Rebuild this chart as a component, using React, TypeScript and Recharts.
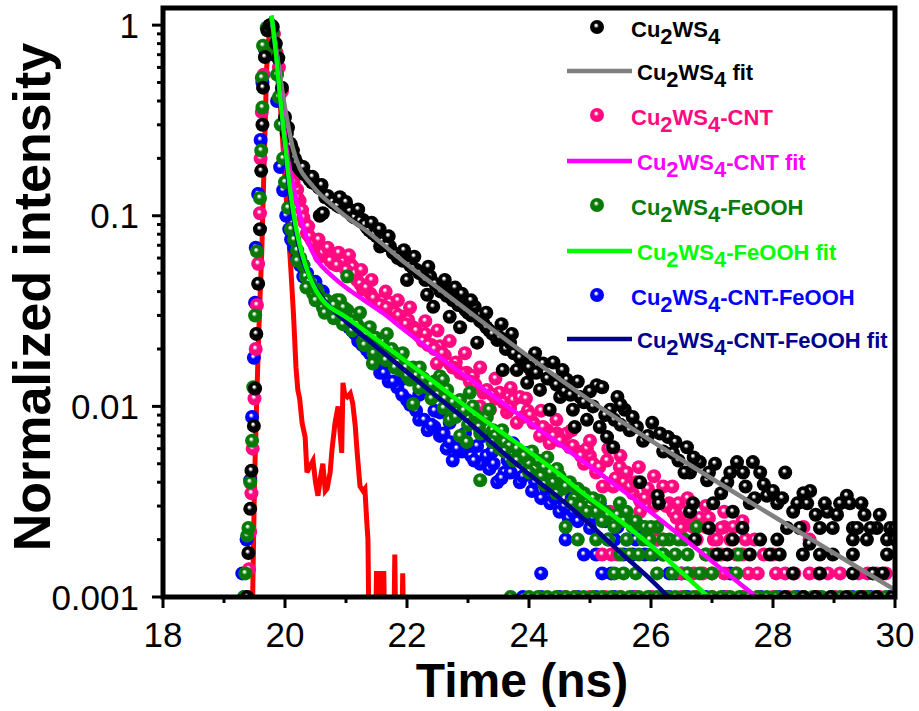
import React from 'react';
import { ComposedChart, Line, Scatter, XAxis, YAxis, ReferenceArea } from 'recharts';

// measured points, [time (ns), normalized intensity]
const cu2ws4: number[][] = [
  [19.38, 0.001], [19.40, 0.0017], [19.43, 0.0029], [19.45, 0.0046], [19.49, 0.0079], [19.51, 0.0124], [19.53, 0.024],
  [19.56, 0.044], [19.59, 0.085], [19.61, 0.172], [19.63, 0.30], [19.64, 0.47], [19.67, 0.68], [19.71, 0.94], [19.75, 1.0],
  [19.80, 0.98], [19.85, 0.8], [19.89, 0.67], [19.95, 0.47], [20.0, 0.33], [20.03, 0.27], [20.08, 0.24], [20.13, 0.22],
  [20.16, 0.2], [20.22, 0.18], [20.28, 0.17], [20.36, 0.162], [20.44, 0.15], [20.52, 0.146], [20.57, 0.10], [20.62, 0.103],
  [20.66, 0.125], [20.74, 0.121], [20.82, 0.116], [20.9, 0.111], [20.96, 0.116], [21.02, 0.111], [21.1, 0.1], [21.18, 0.103],
  [21.28, 0.095], [21.34, 0.087], [21.44, 0.081], [21.5, 0.078], [21.56, 0.069], [21.64, 0.072], [21.72, 0.069], [21.77, 0.064],
  [21.85, 0.06], [21.93, 0.058], [22.0, 0.046], [22.05, 0.055], [22.16, 0.052], [22.25, 0.05], [22.33, 0.0385], [22.38, 0.048],
  [22.43, 0.0333], [22.5, 0.043], [22.59, 0.041], [22.7, 0.0295], [22.79, 0.042], [22.87, 0.026], [22.92, 0.0333], [23.0, 0.031],
  [23.11, 0.0333], [23.15, 0.0216], [23.25, 0.0274], [23.35, 0.025], [23.48, 0.0223], [23.57, 0.0155], [23.62, 0.02], [23.69, 0.0216],
  [23.8, 0.0155], [23.9, 0.017], [23.97, 0.0133], [24.05, 0.015], [24.18, 0.0122], [24.23, 0.0168], [24.34, 0.0096], [24.39, 0.0138],
  [24.51, 0.0112], [24.62, 0.0138], [24.72, 0.0096], [24.75, 0.0078], [24.84, 0.0112], [24.95, 0.0085], [25.11, 0.0129], [25.16, 0.0078],
  [25.2, 0.0126], [25.28, 0.0069], [25.33, 0.0096], [25.38, 0.0061], [25.45, 0.0112], [25.57, 0.0096], [25.77, 0.0078], [25.82, 0.004],
  [25.87, 0.0066], [26.02, 0.0082], [26.11, 0.0034], [26.13, 0.0031], [26.28, 0.0069], [26.36, 0.0057], [26.59, 0.0061], [26.64, 0.0045],
  [26.64, 0.0028], [26.69, 0.0031], [26.72, 0.002], [26.8, 0.0051], [26.92, 0.0041], [27.02, 0.0031], [27.08, 0.00167], [27.25, 0.004],
  [27.25, 0.00167], [27.34, 0.0028], [27.34, 0.002], [27.41, 0.0051], [27.51, 0.0045], [27.62, 0.0031], [27.62, 0.00167], [27.67, 0.0051],
  [27.79, 0.0045], [27.79, 0.002], [27.9, 0.0034], [27.95, 0.00167], [28.07, 0.0031], [28.07, 0.002], [28.11, 0.00167], [28.2, 0.0045],
  [28.23, 0.0023], [28.33, 0.0028], [28.33, 0.00133], [28.44, 0.0023], [28.49, 0.00167], [28.56, 0.0031], [28.61, 0.0036], [28.77, 0.0023],
  [28.77, 0.00167], [28.77, 0.00133], [28.89, 0.0028], [28.98, 0.0023], [28.98, 0.00167], [29.21, 0.0034], [29.26, 0.0031], [29.31, 0.0023],
  [29.31, 0.002], [29.31, 0.00167], [29.31, 0.00133], [29.38, 0.0023], [29.54, 0.002], [29.64, 0.00133], [29.7, 0.0023], [29.8, 0.00133],
  [29.87, 0.002], [29.87, 0.00167], [29.92, 0.0023], [30.0, 0.0023],
  [28.2, 0.001], [28.5, 0.001], [28.7, 0.001], [28.95, 0.001], [29.2, 0.001], [29.45, 0.001], [29.7, 0.001], [29.95, 0.001],
  [20.05, 0.29], [20.1, 0.235], [20.19, 0.19], [20.25, 0.175], [20.32, 0.165], [20.4, 0.155], [20.48, 0.148], [20.56, 0.14],
  [20.7, 0.127], [20.78, 0.118], [20.86, 0.113], [21.06, 0.106], [21.14, 0.098], [21.23, 0.094], [21.31, 0.09], [21.38, 0.084],
  [21.47, 0.08], [21.6, 0.073], [21.68, 0.07], [21.81, 0.063], [21.89, 0.061], [22.1, 0.053], [22.2, 0.05], [22.3, 0.046],
  [22.46, 0.044], [22.55, 0.04], [22.65, 0.038], [22.75, 0.036], [22.84, 0.034], [22.96, 0.032], [23.06, 0.03], [23.2, 0.028],
  [23.3, 0.026], [23.4, 0.024], [23.52, 0.023], [23.75, 0.019], [23.85, 0.018], [24.0, 0.016], [24.12, 0.015], [24.3, 0.014],
  [24.45, 0.013], [24.58, 0.012], [24.68, 0.0115], [24.9, 0.0105], [25.05, 0.01], [25.25, 0.009], [25.4, 0.0085], [25.5, 0.008],
  [25.65, 0.0075], [25.95, 0.007], [26.2, 0.0058], [26.45, 0.0052], [26.55, 0.0045], [26.95, 0.0045], [27.15, 0.0035],
  [27.55, 0.0038], [27.7, 0.0033], [28.0, 0.0036], [28.4, 0.0031], [28.7, 0.0027], [29.05, 0.0027], [29.5, 0.0027],
  [29.75, 0.0027], [30.0, 0.002],
  [20.3, 0.18], [20.45, 0.16], [20.6, 0.145], [20.9, 0.125], [21.0, 0.118], [21.2, 0.108], [21.42, 0.092], [21.55, 0.085],
  [21.7, 0.078], [21.95, 0.066], [22.12, 0.061], [22.35, 0.054], [22.62, 0.046], [22.9, 0.039], [23.05, 0.036], [23.3, 0.031],
  [23.55, 0.027], [23.72, 0.024], [24.1, 0.019], [24.4, 0.017], [24.55, 0.0155], [24.8, 0.0135], [25.0, 0.012], [25.5, 0.0102],
  [25.7, 0.0088], [26.15, 0.0072], [26.4, 0.0065], [26.7, 0.0054], [27.05, 0.005], [27.3, 0.0045], [27.85, 0.0039], [28.15, 0.0033],
  [28.5, 0.0035], [28.85, 0.0031], [29.1, 0.0031], [29.45, 0.0031], [29.6, 0.0023], [28.6, 0.0019], [27.5, 0.0023], [26.95, 0.0023],
];

const cu2ws4Cnt: number[][] = [
  [19.38, 0.001], [19.41, 0.0014], [19.43, 0.0022], [19.45, 0.0035], [19.47, 0.006], [19.5, 0.011], [19.52, 0.02], [19.54, 0.034],
  [19.56, 0.056], [19.59, 0.103], [19.6, 0.2], [19.62, 0.35], [19.65, 0.55], [19.68, 0.76], [19.72, 0.95], [19.77, 1.0],
  [19.82, 0.9], [19.86, 0.72], [19.9, 0.6], [19.95, 0.45], [20.0, 0.3], [20.05, 0.22], [20.1, 0.17], [20.16, 0.14], [20.2, 0.137],
  [20.24, 0.12], [20.28, 0.107], [20.32, 0.092], [20.36, 0.081], [20.44, 0.074], [20.52, 0.069], [20.57, 0.061], [20.69, 0.061],
  [20.79, 0.056], [20.9, 0.056], [20.95, 0.058], [21.07, 0.056], [21.11, 0.054], [21.18, 0.046], [21.23, 0.044], [21.28, 0.041],
  [21.4, 0.039], [21.51, 0.035], [21.6, 0.036], [21.72, 0.035], [21.8, 0.031], [21.93, 0.0295], [22.02, 0.0284], [22.1, 0.026],
  [22.21, 0.0233], [22.3, 0.024], [22.4, 0.021], [22.49, 0.0168], [22.54, 0.0207], [22.62, 0.0185], [22.7, 0.0168], [22.8, 0.017],
  [22.87, 0.015], [22.98, 0.015], [23.08, 0.0144], [23.15, 0.0099], [23.2, 0.01], [23.25, 0.0118], [23.31, 0.0122], [23.36, 0.0096],
  [23.45, 0.011], [23.52, 0.0118], [23.64, 0.0093], [23.74, 0.0108], [23.8, 0.0082], [23.85, 0.0112], [23.9, 0.0088], [23.98, 0.0095],
  [24.07, 0.0082], [24.13, 0.005], [24.18, 0.007], [24.3, 0.0075], [24.34, 0.0064], [24.46, 0.0072], [24.56, 0.007], [24.62, 0.0072],
  [24.67, 0.0061], [24.8, 0.0058], [24.9, 0.005], [25.0, 0.0055], [25.1, 0.0045], [25.21, 0.0038], [25.28, 0.0052], [25.33, 0.0028],
  [25.38, 0.0038], [25.49, 0.0048], [25.6, 0.0045], [25.7, 0.0035], [25.82, 0.0032], [25.82, 0.0028], [25.95, 0.0037], [26.05, 0.003],
  [26.2, 0.0038], [26.3, 0.0031], [26.36, 0.0028], [26.42, 0.0026], [26.5, 0.0023], [26.6, 0.0026], [26.69, 0.00233], [26.75, 0.002],
  [26.9, 0.00233], [27.03, 0.002], [27.08, 0.002], [27.2, 0.00233], [27.3, 0.002], [27.4, 0.00167],
  [25.2, 0.00167], [25.35, 0.00167], [25.45, 0.00167], [26.9, 0.00167], [27.0, 0.00167], [27.15, 0.00167], [27.5, 0.00167],
  [26.5, 0.00133], [26.7, 0.00133], [26.85, 0.00133], [27.0, 0.00133], [27.2, 0.00133], [27.4, 0.00133], [27.6, 0.00133],
  [27.75, 0.00133], [28.6, 0.00133], [28.75, 0.00133], [28.9, 0.00133], [29.4, 0.00133], [29.55, 0.00133],
  [24.6, 0.001], [25.0, 0.001], [25.5, 0.001], [26.0, 0.001], [26.5, 0.001], [27.0, 0.001], [27.5, 0.001], [28.0, 0.001],
  [28.5, 0.001], [29.0, 0.001], [29.5, 0.001], [30.0, 0.001], [26.1, 0.002], [26.2, 0.002], [28.6, 0.002], [28.5, 0.00233],
  [20.14, 0.15], [20.3, 0.098], [20.4, 0.078], [20.48, 0.072], [20.62, 0.064], [20.74, 0.058], [20.85, 0.055], [21.0, 0.052],
  [21.15, 0.05], [21.33, 0.042], [21.45, 0.037], [21.56, 0.034], [21.66, 0.033], [21.86, 0.03], [21.98, 0.027], [22.15, 0.025],
  [22.26, 0.022], [22.35, 0.021], [22.45, 0.02], [22.58, 0.019], [22.75, 0.016], [22.92, 0.0148], [23.03, 0.0135], [23.12, 0.013],
  [23.4, 0.0115], [23.58, 0.0105], [23.69, 0.0098], [24.02, 0.009], [24.23, 0.0078], [24.4, 0.007], [24.51, 0.0066], [24.72, 0.0062],
  [24.85, 0.0055], [24.95, 0.006], [25.05, 0.005], [25.15, 0.0048], [25.42, 0.0042], [25.55, 0.004], [25.65, 0.0038], [25.75, 0.004],
  [25.9, 0.0033], [26.1, 0.0033], [26.25, 0.003], [26.45, 0.0031], [26.55, 0.0028], [26.8, 0.0026], [26.95, 0.0026], [27.15, 0.0023],
  [27.35, 0.00233], [27.55, 0.002], [27.7, 0.002], [27.85, 0.00167], [28.0, 0.00167], [28.2, 0.00133], [28.35, 0.00133],
  [28.05, 0.00133], [29.1, 0.00133], [29.7, 0.00133], [29.85, 0.00133],
  [24.75, 0.001], [25.25, 0.001], [25.75, 0.001], [26.25, 0.001], [26.75, 0.001], [27.25, 0.001], [27.75, 0.001], [28.25, 0.001],
  [28.75, 0.001], [29.25, 0.001], [29.75, 0.001],
  [20.2, 0.125], [20.38, 0.088], [20.55, 0.075], [20.7, 0.068], [20.88, 0.064], [21.05, 0.062], [21.25, 0.052], [21.42, 0.046],
  [21.65, 0.04], [21.85, 0.036], [22.05, 0.033], [22.3, 0.028], [22.5, 0.025], [22.7, 0.022], [22.95, 0.019], [23.2, 0.016],
  [23.45, 0.014], [23.7, 0.0125], [23.95, 0.011], [24.2, 0.0095], [24.45, 0.0085], [24.7, 0.0075], [25.0, 0.0066], [25.3, 0.006],
  [25.5, 0.0055], [25.8, 0.0048], [26.05, 0.0043], [26.35, 0.0038], [26.6, 0.0033], [26.9, 0.003], [27.2, 0.0028], [27.5, 0.0025],
];

const cu2ws4FeOOH: number[][] = [
  [19.33, 0.001], [19.35, 0.00133], [19.38, 0.0021], [19.40, 0.0023], [19.43, 0.004], [19.46, 0.0066], [19.48, 0.0126], [19.51, 0.03],
  [19.54, 0.065], [19.59, 0.124], [19.61, 0.22], [19.63, 0.37], [19.62, 0.53], [19.64, 0.78], [19.7, 0.97], [19.76, 1.0],
  [19.8, 0.92], [19.84, 0.75], [19.87, 0.55], [19.9, 0.42], [19.93, 0.3], [19.97, 0.2], [20.0, 0.15], [20.05, 0.11], [20.1, 0.085],
  [20.15, 0.075], [20.2, 0.066], [20.3, 0.055], [20.34, 0.048], [20.46, 0.039], [20.52, 0.041], [20.62, 0.033], [20.74, 0.035],
  [20.85, 0.036], [20.9, 0.036], [21.02, 0.048], [21.02, 0.032], [21.15, 0.03], [21.23, 0.031], [21.28, 0.022], [21.39, 0.026],
  [21.44, 0.0168], [21.51, 0.0205], [21.6, 0.022], [21.67, 0.024], [21.72, 0.0175], [21.8, 0.019], [21.89, 0.0155], [21.93, 0.019],
  [22.05, 0.0138], [22.1, 0.016], [22.1, 0.0103], [22.21, 0.016], [22.33, 0.0126], [22.45, 0.0135], [22.54, 0.0144], [22.59, 0.0138],
  [22.66, 0.0122], [22.7, 0.0085], [22.8, 0.0095], [22.87, 0.0108], [22.87, 0.007], [22.98, 0.0065], [23.03, 0.0118], [23.08, 0.01],
  [23.2, 0.0041], [23.25, 0.0085], [23.31, 0.0088], [23.35, 0.0096], [23.41, 0.0075], [23.52, 0.006], [23.6, 0.0065], [23.74, 0.0052],
  [23.85, 0.0056], [24.0, 0.005], [24.1, 0.0047], [24.2, 0.0043], [24.3, 0.0054], [24.4, 0.004], [24.46, 0.0047], [24.55, 0.0037],
  [24.67, 0.004], [24.75, 0.0033], [24.9, 0.0035], [25.0, 0.003], [25.16, 0.0032], [25.25, 0.0028], [25.38, 0.0025], [25.49, 0.0031],
  [25.6, 0.0028], [25.7, 0.00233], [25.87, 0.002], [25.98, 0.002], [26.1, 0.00233], [26.3, 0.002], [26.75, 0.00233],
  [24.6, 0.00233], [24.8, 0.002], [25.1, 0.002], [25.3, 0.002], [25.5, 0.00167], [25.65, 0.00167], [25.8, 0.00167], [26.0, 0.00167],
  [26.2, 0.00167], [26.4, 0.00167], [26.6, 0.00167], [26.55, 0.002], [27.44, 0.00167], [25.4, 0.00133], [25.55, 0.00133],
  [25.75, 0.00133], [26.1, 0.00133], [27.4, 0.00133],
  [24.0, 0.001], [24.3, 0.001], [24.6, 0.001], [24.9, 0.001], [25.2, 0.001], [25.5, 0.001], [25.8, 0.001], [26.1, 0.001],
  [26.4, 0.001], [26.7, 0.001], [27.0, 0.001], [27.3, 0.001], [27.6, 0.001], [27.9, 0.001], [28.2, 0.001], [28.5, 0.001],
  [28.8, 0.001], [29.1, 0.001], [29.4, 0.001], [29.7, 0.001],
  [20.25, 0.06], [20.4, 0.045], [20.56, 0.038], [20.68, 0.036], [20.8, 0.034], [20.96, 0.033], [21.1, 0.028], [21.18, 0.027],
  [21.33, 0.024], [21.48, 0.023], [21.55, 0.019], [21.75, 0.02], [21.85, 0.017], [21.98, 0.016], [22.15, 0.0145], [22.27, 0.014],
  [22.4, 0.013], [22.5, 0.0115], [22.62, 0.011], [22.75, 0.0105], [22.93, 0.0095], [23.12, 0.009], [23.18, 0.0078], [23.45, 0.007],
  [23.56, 0.0075], [23.68, 0.0062], [23.8, 0.006], [23.92, 0.0055], [24.05, 0.0058], [24.15, 0.0052], [24.25, 0.0048], [24.35, 0.0045],
  [24.5, 0.0043], [24.6, 0.0038], [24.8, 0.0037], [24.85, 0.003], [25.05, 0.0033], [25.1, 0.0028], [25.3, 0.0027], [25.45, 0.0027],
  [25.55, 0.0025], [25.75, 0.0025], [25.9, 0.00233], [26.0, 0.00233], [26.2, 0.002], [26.45, 0.002], [26.9, 0.00167], [27.1, 0.00167],
  [26.8, 0.00133], [27.0, 0.00133],
  [23.7, 0.001], [24.15, 0.001], [24.45, 0.001], [24.75, 0.001], [25.05, 0.001], [25.35, 0.001], [25.65, 0.001], [25.95, 0.001],
  [26.25, 0.001], [26.55, 0.001], [26.85, 0.001], [27.15, 0.001], [27.45, 0.001], [27.75, 0.001], [28.05, 0.001], [28.35, 0.001],
  [28.65, 0.001], [28.95, 0.001], [29.25, 0.001], [29.55, 0.001], [29.85, 0.001],
  [20.2, 0.058], [20.35, 0.042], [20.5, 0.036], [20.65, 0.031], [20.8, 0.029], [20.95, 0.027], [21.1, 0.025], [21.3, 0.021],
  [21.45, 0.019], [21.65, 0.0175], [21.8, 0.016], [22.0, 0.0145], [22.2, 0.0125], [22.4, 0.011], [22.6, 0.0098], [22.8, 0.0088],
  [23.0, 0.008], [23.2, 0.0072], [23.4, 0.0065], [23.6, 0.0058], [23.8, 0.0052], [24.0, 0.0045], [24.25, 0.0039], [24.45, 0.0035],
  [24.7, 0.0031], [24.95, 0.0028], [25.2, 0.0025], [25.4, 0.00233], [25.6, 0.002], [26.35, 0.00133], [26.6, 0.00133],
];

const cu2ws4CntFeOOH: number[][] = [
  [19.3, 0.00133], [19.33, 0.001], [19.37, 0.002], [19.43, 0.0041], [19.46, 0.0088], [19.49, 0.018], [19.51, 0.035], [19.52, 0.068],
  [19.56, 0.13], [19.6, 0.25], [19.63, 0.5], [19.67, 0.75], [19.72, 0.95], [19.77, 1.0],
  [19.82, 0.7], [19.87, 0.4], [19.92, 0.18], [19.97, 0.136], [20.02, 0.1], [20.1, 0.075], [20.2, 0.06], [20.3, 0.048], [20.36, 0.05],
  [20.45, 0.043], [20.52, 0.042], [20.65, 0.034], [20.79, 0.03], [20.9, 0.029], [20.98, 0.0275], [21.1, 0.025], [21.2, 0.022],
  [21.34, 0.0198], [21.39, 0.019], [21.5, 0.017], [21.56, 0.015], [21.7, 0.0135], [21.84, 0.0126], [22.0, 0.0108], [22.1, 0.0105],
  [22.2, 0.0085], [22.34, 0.0075], [22.45, 0.0078], [22.54, 0.0093], [22.54, 0.007], [22.65, 0.006], [22.75, 0.0052], [22.9, 0.0058],
  [23.05, 0.0055], [23.2, 0.005], [23.25, 0.007], [23.35, 0.0047], [23.48, 0.004], [23.6, 0.0045], [23.74, 0.0064], [23.85, 0.004],
  [23.97, 0.0057], [24.05, 0.0036], [24.2, 0.0033], [24.35, 0.0031], [24.5, 0.0028], [24.65, 0.0026], [24.8, 0.0025], [25.0, 0.0023],
  [25.16, 0.0031], [25.3, 0.002], [25.45, 0.00233], [25.6, 0.002], [25.75, 0.002], [25.9, 0.00167], [26.1, 0.002], [26.3, 0.00133],
  [24.6, 0.002], [24.9, 0.00167], [25.1, 0.00167], [25.2, 0.00133], [25.35, 0.00133], [25.55, 0.00167], [26.4, 0.00133],
  [26.5, 0.00133], [27.3, 0.00133], [24.2, 0.00133],
  [23.9, 0.001], [24.2, 0.001], [24.5, 0.001], [24.8, 0.001], [25.1, 0.001], [25.4, 0.001], [25.7, 0.001], [26.0, 0.001],
  [26.3, 0.001], [26.6, 0.001], [26.9, 0.001], [27.2, 0.001], [27.5, 0.001], [27.8, 0.001], [28.1, 0.001], [28.4, 0.001],
  [28.7, 0.001], [29.0, 0.001], [29.3, 0.001], [29.6, 0.001], [29.9, 0.001],
  [20.07, 0.085], [20.15, 0.068], [20.25, 0.055], [20.4, 0.046], [20.58, 0.038], [20.7, 0.033], [20.85, 0.03], [21.05, 0.026],
  [21.15, 0.024], [21.27, 0.021], [21.45, 0.018], [21.62, 0.015], [21.77, 0.0135], [21.92, 0.0115], [22.05, 0.0102], [22.15, 0.0095],
  [22.28, 0.0085], [22.4, 0.008], [22.6, 0.0072], [22.7, 0.0065], [22.82, 0.006], [23.0, 0.0062], [23.1, 0.0052], [23.3, 0.0055],
  [23.42, 0.005], [23.55, 0.0042], [23.7, 0.0045], [23.9, 0.0043], [24.1, 0.004], [24.28, 0.0037], [24.42, 0.0033], [24.58, 0.003],
  [24.72, 0.0028], [24.9, 0.0027], [25.05, 0.0026], [25.25, 0.0025], [25.4, 0.002], [25.7, 0.00167], [25.95, 0.002], [26.2, 0.00167],
  [26.6, 0.00133],
  [20.12, 0.08], [20.3, 0.055], [20.5, 0.045], [20.62, 0.04], [20.95, 0.031], [21.25, 0.024], [21.5, 0.02], [21.7, 0.017],
  [21.95, 0.014], [22.2, 0.0115], [22.45, 0.0095], [22.7, 0.0082], [22.95, 0.0072], [23.15, 0.0062], [23.4, 0.0058], [23.65, 0.0052],
  [24.0, 0.0047], [24.35, 0.004], [24.7, 0.0033], [25.1, 0.0029], [25.5, 0.0025], [25.85, 0.00233], [26.05, 0.00167],
];

// fitted decays
const cu2ws4Fit: number[][] = [
  [19.78, 1.08], [19.83, 0.85], [19.9, 0.6], [19.97, 0.42], [20.05, 0.3], [20.13, 0.225], [20.25, 0.175], [20.4, 0.15],
  [20.55, 0.132], [20.8, 0.112], [21.0, 0.099], [21.3, 0.085], [21.6, 0.071], [21.9, 0.059], [22.5, 0.042], [23.2, 0.0283],
  [24.0, 0.0182], [24.8, 0.0119], [25.6, 0.008], [26.4, 0.00549], [27.2, 0.00381], [28.0, 0.00266], [28.8, 0.00186],
  [29.6, 0.0013], [30.0, 0.00109],
];
const cu2ws4CntFit: number[][] = [
  [19.78, 1.1], [19.85, 0.75], [19.92, 0.45], [20.0, 0.26], [20.07, 0.18], [20.13, 0.145], [20.25, 0.1], [20.4, 0.07],
  [20.55, 0.057], [20.75, 0.049], [21.0, 0.042], [21.3, 0.036], [21.6, 0.031], [21.9, 0.026], [22.5, 0.0185], [23.2, 0.0127],
  [24.0, 0.0083], [24.8, 0.0054], [25.6, 0.0035], [26.4, 0.0022], [27.1, 0.00145], [27.8, 0.00096],
];
const cu2ws4FeOOHFit: number[][] = [
  [19.78, 1.12], [19.85, 0.72], [19.92, 0.42], [20.0, 0.24], [20.08, 0.14], [20.17, 0.09], [20.28, 0.063], [20.4, 0.048],
  [20.52, 0.04], [20.62, 0.036], [21.0, 0.0294], [21.5, 0.0225], [22.0, 0.0171], [22.5, 0.013], [23.0, 0.0098], [23.5, 0.0075],
  [24.0, 0.0058], [24.5, 0.0044], [24.84, 0.0036], [25.5, 0.0025], [26.2, 0.00164], [26.94, 0.001],
];
const cu2ws4CntFeOOHFit: number[][] = [
  [19.78, 1.12], [19.85, 0.72], [19.92, 0.41], [20.0, 0.23], [20.08, 0.13], [20.17, 0.085], [20.28, 0.06], [20.4, 0.048],
  [20.54, 0.04], [20.75, 0.033], [21.02, 0.0275], [21.5, 0.0205], [22.0, 0.0151], [22.5, 0.0112], [23.0, 0.0083], [23.5, 0.006],
  [24.0, 0.0044], [24.5, 0.0033], [25.0, 0.0024], [25.5, 0.00171], [26.0, 0.00123], [26.3, 0.00099],
];

// instrument response (zero counts drawn as 0.0005, below the axis)
const irf: number[][] = [
  [19.42, 0.0005], [19.47, 0.001], [19.5, 0.004], [19.54, 0.012], [19.58, 0.03], [19.62, 0.066], [19.66, 0.2], [19.7, 0.6],
  [19.75, 1.0], [19.8, 0.85], [19.86, 0.6], [19.92, 0.4], [19.98, 0.2], [20.04, 0.1], [20.1, 0.05], [20.14, 0.03], [20.18, 0.016],
  [20.21, 0.0122], [20.24, 0.011], [20.28, 0.0082], [20.33, 0.0069], [20.36, 0.0045], [20.4, 0.0048], [20.46, 0.0052], [20.5, 0.004],
  [20.54, 0.0034], [20.58, 0.0042], [20.62, 0.005], [20.66, 0.0036], [20.69, 0.0037], [20.74, 0.0045], [20.77, 0.0059],
  [20.82, 0.0082], [20.87, 0.01], [20.9, 0.0075], [20.93, 0.0057], [20.95, 0.0133], [20.98, 0.0115], [21.02, 0.0112],
  [21.07, 0.0117], [21.11, 0.0104], [21.15, 0.008], [21.18, 0.0059], [21.23, 0.0038], [21.28, 0.0036], [21.31, 0.0037],
  [21.34, 0.0025], [21.36, 0.002], [21.38, 0.0005], [21.48, 0.0005], [21.5, 0.00133], [21.54, 0.00133], [21.56, 0.0005],
  [21.58, 0.00133], [21.62, 0.00133], [21.64, 0.0005], [21.78, 0.0005], [21.8, 0.00167], [21.82, 0.0005], [21.91, 0.0005],
  [21.93, 0.00133], [21.95, 0.0005],
];

const xTicks = [18, 19, 20, 21, 22, 23, 24, 25, 26, 27, 28, 29, 30];
const yTicks = [
  0.001, 0.002, 0.003, 0.004, 0.005, 0.006, 0.007, 0.008, 0.009,
  0.01, 0.02, 0.03, 0.04, 0.05, 0.06, 0.07, 0.08, 0.09,
  0.1, 0.2, 0.3, 0.4, 0.5, 0.6, 0.7, 0.8, 0.9, 1,
];
const yTickLabels: Record<string, string> = { '0.001': '0.001', '0.01': '0.01', '0.1': '0.1', '1': '1' };

const FONT = '"Liberation Sans", Arial, Helvetica, sans-serif';

const toPts = (arr: number[][]) => arr.map(([t, v]) => ({ t, v }));

const balls = [
  { id: 'ballBlack', base: '#000000' },
  { id: 'ballPink', base: '#ff0a80' },
  { id: 'ballGreen', base: '#077a07' },
  { id: 'ballBlue', base: '#0000ff' },
];

function BallDefs({ prefix }: { prefix: string }) {
  return (
    <defs>
      {balls.map((b) => (
        <radialGradient key={b.id} id={prefix + b.id} cx="50%" cy="50%" r="50%" fx="42%" fy="36%">
          <stop offset="0%" stopColor="#ffffff" />
          <stop offset="10%" stopColor="#ffffff" />
          <stop offset="38%" stopColor={b.base} />
          <stop offset="100%" stopColor={b.base} />
        </radialGradient>
      ))}
    </defs>
  );
}

const ballShape = (id: string) => (props: any) => (
  <circle cx={props.cx} cy={props.cy} r={7} fill={`url(#c${id})`} />
);

const renderXTick = (props: any) => {
  const { x, y, payload } = props;
  const major = payload.value % 2 === 0;
  return (
    <g>
      <line x1={x} x2={x} y1={y} y2={y + (major ? 11 : 6)} stroke="#000" strokeWidth={3} />
      {major && (
        <text x={x} y={y + 50} textAnchor="middle" fontSize={35} fontFamily={FONT} fill="#000">
          {payload.value}
        </text>
      )}
    </g>
  );
};

const renderYTick = (props: any) => {
  const { x, y, payload } = props;
  const label = yTickLabels[String(payload.value)];
  return (
    <g>
      <line x1={x} x2={x - (label ? 11 : 6)} y1={y} y2={y} stroke="#000" strokeWidth={3} />
      {label && (
        <text x={x - 24} y={y + 12.5} textAnchor="end" fontSize={35} fontFamily={FONT} fill="#000">
          {label}
        </text>
      )}
    </g>
  );
};

// formula label with subscripts
function Formula({ x, y, color, suffix }: { x: number; y: number; color: string; suffix: string }) {
  return (
    <text x={x} y={y} fontSize={22} fontWeight="bold" fontFamily={FONT} fill={color}>
      Cu<tspan dy={7}>2</tspan>
      <tspan dy={-7}>WS</tspan>
      <tspan dy={7}>4</tspan>
      <tspan dy={-7}>{suffix}</tspan>
    </text>
  );
}

const legendRows = [
  { kind: 'ball', ball: 'ballBlack', color: '#000000', text: '#000000', suffix: '', y: 37 },
  { kind: 'line', color: '#808080', text: '#000000', suffix: ' fit', y: 80 },
  { kind: 'ball', ball: 'ballPink', color: '#ff0a80', text: '#ff0a80', suffix: '-CNT', y: 125 },
  { kind: 'line', color: '#ff00ff', text: '#ff00ff', suffix: '-CNT fit', y: 170 },
  { kind: 'ball', ball: 'ballGreen', color: '#077a07', text: '#077a07', suffix: '-FeOOH', y: 215 },
  { kind: 'line', color: '#00ff00', text: '#00ff00', suffix: '-FeOOH fit', y: 260 },
  { kind: 'ball', ball: 'ballBlue', color: '#0000ff', text: '#0000ff', suffix: '-CNT-FeOOH', y: 305 },
  { kind: 'line', color: '#000090', text: '#000090', suffix: '-CNT-FeOOH fit', y: 348 },
];

export default function App() {
  return (
    <div style={{ position: 'absolute', left: 0, top: 0, width: 919, height: 711, background: '#fff' }}>
      <ComposedChart width={919} height={711} margin={{ top: 8, right: 24, bottom: 54, left: 103 }}>
        <BallDefs prefix="c" />
        <XAxis
          type="number"
          dataKey="t"
          domain={[18, 30]}
          ticks={xTicks}
          interval={0}
          allowDataOverflow
          axisLine={false}
          tickLine={false}
          tickSize={0}
          tickMargin={0}
          height={60}
          tick={renderXTick}
        />
        <YAxis
          type="number"
          dataKey="v"
          scale="log"
          domain={[0.001, 1.23]}
          ticks={yTicks}
          interval={0}
          allowDataOverflow
          axisLine={false}
          tickLine={false}
          tickSize={0}
          tickMargin={0}
          width={60}
          tick={renderYTick}
        />
        <Line data={toPts(irf)} dataKey="v" type="linear" stroke="#ff0000" strokeWidth={5} dot={false} isAnimationActive={false} />
        <Scatter data={toPts(cu2ws4CntFeOOH)} fill="#0000ff" shape={ballShape('ballBlue')} isAnimationActive={false} />
        <Scatter data={toPts(cu2ws4Cnt)} fill="#ff0a80" shape={ballShape('ballPink')} isAnimationActive={false} />
        <Scatter data={toPts(cu2ws4FeOOH)} fill="#077a07" shape={ballShape('ballGreen')} isAnimationActive={false} />
        <Scatter data={toPts(cu2ws4)} fill="#000000" shape={ballShape('ballBlack')} isAnimationActive={false} />
        <Line data={toPts(cu2ws4Fit)} dataKey="v" type="monotone" stroke="#808080" strokeWidth={4.5} dot={false} isAnimationActive={false} zIndex={700} />
        <Line data={toPts(cu2ws4CntFit)} dataKey="v" type="monotone" stroke="#ff00ff" strokeWidth={4.5} dot={false} isAnimationActive={false} zIndex={700} />
        <Line data={toPts(cu2ws4CntFeOOHFit)} dataKey="v" type="monotone" stroke="#000090" strokeWidth={4.5} dot={false} isAnimationActive={false} zIndex={700} />
        <Line data={toPts(cu2ws4FeOOHFit)} dataKey="v" type="monotone" stroke="#00ff00" strokeWidth={4.5} dot={false} isAnimationActive={false} zIndex={710} />
        <ReferenceArea x1={18} x2={30} y1={0.001} y2={1.23} fill="none" fillOpacity={0} stroke="#000" strokeWidth={5} ifOverflow="visible" zIndex={800} />
      </ComposedChart>
      <svg width={919} height={711} style={{ position: 'absolute', left: 0, top: 0, pointerEvents: 'none' }}>
        <BallDefs prefix="l" />
        <text x={522} y={697} textAnchor="middle" fontSize={48} fontWeight="bold" fontFamily={FONT} fill="#000">
          Time (ns)
        </text>
        <text transform="translate(50,297) rotate(-90)" textAnchor="middle" fontSize={52} fontWeight="bold" fontFamily={FONT} fill="#000">
          Normalized intensity
        </text>
        {legendRows.map((r, i) => (
          <g key={i}>
            {r.kind === 'ball' ? (
              <circle cx={597} cy={r.y - 10} r={7} fill={`url(#l${r.ball})`} />
            ) : (
              <line x1={567} x2={632} y1={r.y - 9} y2={r.y - 9} stroke={r.color} strokeWidth={4.5} />
            )}
            <Formula x={r.kind === 'ball' ? 631 : 637} y={r.y} color={r.text} suffix={r.suffix} />
          </g>
        ))}
      </svg>
    </div>
  );
}
